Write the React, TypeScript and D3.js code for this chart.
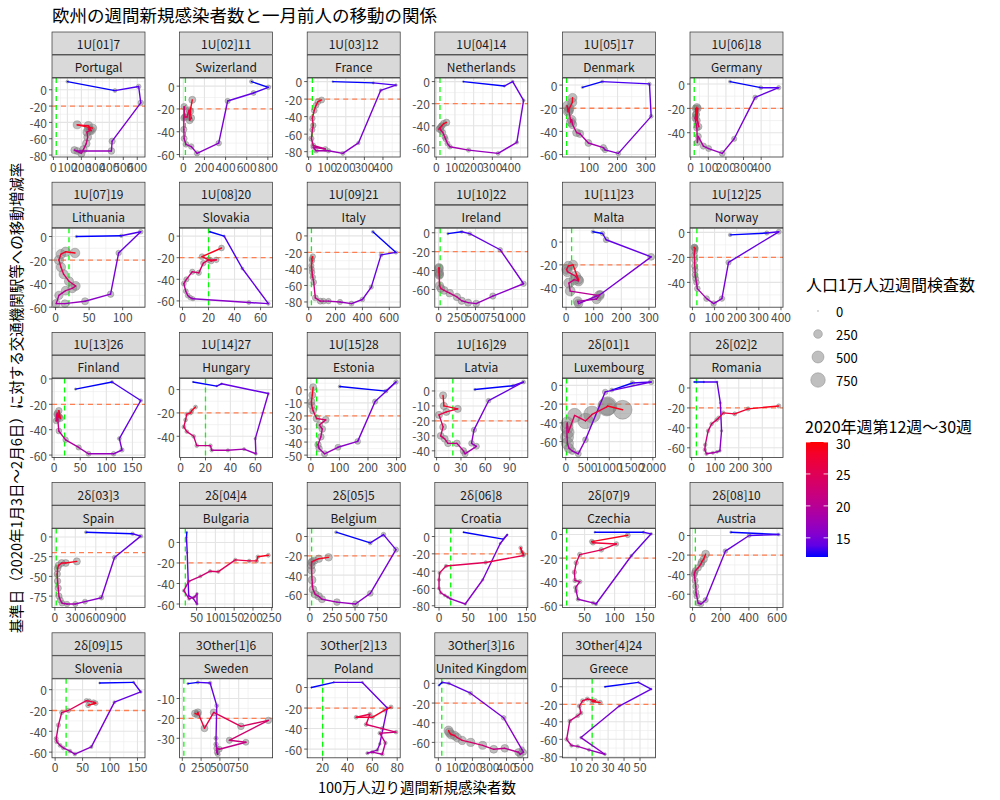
import React from "react";
import * as d3 from "d3";

const FONT = "'Noto Sans CJK JP', 'Noto Sans', sans-serif";

const weeks = [12, 13, 14, 15, 16, 17, 18, 19, 20, 21, 22, 23, 24, 25, 26, 27, 28, 29, 30];

const titleText = "欧州の週間新規感染者数と一月前人の移動の関係";
const xTitle = "100万人辺り週間新規感染者数";
const yTitle = "基準日（2020年1月3日〜2月6日）に対する交通機関駅等への移動増減率";
const sizeTitle = "人口1万人辺週間検査数";
const colorTitle = "2020年週第12週〜30週";
const sizeBreaks = [0, 250, 500, 750];
const colorBreaks = [15, 20, 25, 30];

// ---- per-country series (x: weekly new cases per million, y: mobility change a month before, t: tests per 10k) ----
const xPortugal = [100, 440, 610, 625, 420, 415, 170, 150, 200, 215, 235, 245, 240, 260, 250, 270, 250, 170, 280];
const yPortugal = [10, -1, 4, -16, -63, -75, -75, -74, -78, -73, -66, -58, -52, -50, -48, -50, -44, -43, -47];
const tPortugal = [20, 40, 60, 90, 120, 140, 150, 160, 170, 180, 190, 200, 210, 200, 220, 230, 220, 210, 230];

const xSwizerland = [645, 805, 665, 420, 335, 130, 75, 25, 8, 5, 5, 8, 15, 35, 55, 60, 75, 65, 85];
const ySwizerland = [4, -1, -6, -13, -50, -59, -53, -51, -46, -38, -28, -18, -27, -27, -21, -30, -28, -22, -12];
const tSwizerland = [40, 60, 70, 80, 90, 80, 90, 100, 110, 120, 120, 130, 130, 140, 140, 150, 150, 160, 160];

const xFrance = [130, 348, 470, 388, 268, 184, 107, 40, 25, 90, 25, 15, 20, 25, 20, 30, 40, 50, 70];
const yFrance = [0, -1.5, -4, -10, -70, -82, -79, -79, -75, -77, -73, -65, -55, -50, -42, -33, -27, -23, -21];
const tFrance = [5, 10, 15, 20, 30, 40, 50, 60, 60, 70, 70, 80, 80, 90, 90, 100, 100, 110, 110];

const xNetherlands = [145, 364, 409, 467, 431, 331, 173, 73, 60, 50, 45, 35, 25, 20, 15, 25, 30, 40, 55];
const yNetherlands = [0, -4, 0, -17, -55, -65, -62, -59, -56, -52, -50, -46, -44, -42, -43, -41, -40, -38, -37];
const tNetherlands = [5, 10, 15, 20, 30, 40, 50, 60, 70, 80, 90, 100, 110, 110, 120, 120, 130, 130, 140];

const xDenmark = [76, 146, 313, 319, 203, 156, 150, 97, 67, 55, 41, 38, 35, 28, 22, 25, 30, 40, 41];
const yDenmark = [-2, 3, 1, -27, -59, -56, -54, -50, -42, -41, -34, -30, -32, -22, -18, -23, -20, -15, -11];
const tDenmark = [10, 20, 30, 40, 60, 90, 120, 150, 180, 200, 230, 250, 260, 280, 300, 290, 280, 270, 260];

const xGermany = [223, 398, 500, 366, 247, 179, 102, 72, 43, 38, 35, 25, 30, 45, 28, 35, 40, 30, 35];
const yGermany = [2, -3, -3, -11, -45, -57, -53, -51, -43, -48, -36, -28, -25, -35, -20, -30, -20, -25, -19];
const tGermany = [20, 40, 50, 60, 80, 100, 110, 120, 120, 120, 130, 130, 140, 140, 150, 150, 160, 160, 170];

const xLithuania = [31, 98, 127, 94, 82, 44, 14, 1, 5, 15, 25, 30, 20, 12, 8, 5, 8, 15, 29];
const yLithuania = [0, 0.6, 4, -14, -49, -55, -57, -57, -50, -46, -44, -42, -38, -32, -26, -20, -15, -13, -14];
const tLithuania = [10, 30, 60, 90, 130, 160, 190, 210, 230, 250, 260, 270, 280, 280, 290, 290, 300, 300, 310];

const xSlovakia = [21, 32, 46, 66, 51, 8, 6, 4, 2.5, 1, 3, 7.5, 12.5, 16, 20, 26, 22, 15, 30];
const ySlovakia = [4, 0, -30, -62.5, -61.5, -58, -57, -55, -51, -44, -40, -33, -34, -25, -22, -22, -23, -19, -11];
const tSlovakia = [5, 10, 20, 30, 40, 50, 60, 70, 70, 70, 80, 80, 80, 90, 90, 90, 100, 100, 100];

const xItaly = [478, 650, 539, 466, 400, 319, 233, 147, 110, 86, 49, 37, 30, 25, 22, 20, 25, 22, 30];
const yItaly = [5, -20, -23, -62, -77, -82, -80, -79, -79, -79, -75, -56, -50, -44, -40, -36, -30, -28, -25];
const tItaly = [20, 30, 40, 50, 60, 70, 80, 90, 100, 110, 110, 100, 90, 90, 80, 80, 80, 80, 90];

const xIreland = [126, 313, 422, 835, 1152, 735, 509, 400, 313, 248, 150, 74, 30, 12, 8, 6, 5, 8, 10];
const yIreland = [-1, 1, -1, -18, -54, -67, -75, -74, -72, -68, -64, -61, -59, -56, -45, -38, -37, -42, -44];
const tIreland = [10, 20, 40, 60, 90, 120, 150, 160, 170, 180, 190, 200, 200, 210, 210, 220, 220, 230, 230];

const xMalta = [97, 132, 145, 308, 124, 45, 42, 110, 120, 15, 10, 30, 45, 35, 5, 2, 8, 25, 45];
const yMalta = [9, 7.5, 2, -13, -46, -54, -52, -50, -47, -43, -36, -33, -34, -30, -26, -24, -21, -20, -33];
const tMalta = [30, 60, 100, 150, 200, 250, 280, 300, 320, 330, 340, 350, 360, 340, 330, 320, 300, 290, 280];

const xNorway = [170, 336, 390, 163, 133, 96, 64, 22, 18, 15, 12, 12, 10, 10, 8, 10, 12, 8, 10];
const yNorway = [-2, -0.5, 0.5, -24, -53, -57, -53, -45, -40, -37, -34, -30, -27, -22, -18, -15, -13, -12, -12];
const tNorway = [30, 50, 70, 80, 90, 90, 100, 100, 100, 110, 110, 110, 120, 120, 120, 120, 130, 130, 130];

const xFinland = [41, 111, 166, 125, 130, 114, 66, 47, 22, 9, 7, 5, 4, 8, 6, 10, 9, 12, 8];
const yFinland = [-8, -2.4, -17, -47, -56, -59, -59, -54, -48, -41, -32, -28, -33, -30, -27, -30, -25, -31, -29];
const tFinland = [10, 20, 30, 40, 50, 60, 70, 80, 90, 100, 100, 110, 110, 120, 120, 120, 130, 130, 130];

const xHungary = [10, 29, 33, 70.5, 60, 60.5, 51, 38, 25, 24, 13, 10.5, 5, 2.6, 4, 5, 8, 9, 12];
const yHungary = [6.5, 3, 5, -3.4, -42, -55, -51, -52, -52, -48, -48, -40, -36, -32, -26, -21, -20, -18, -15];
const tHungary = [2, 4, 6, 10, 14, 18, 22, 26, 30, 32, 34, 36, 36, 38, 38, 40, 40, 42, 42];

const xEstonia = [101, 263, 298, 225, 164, 95, 48, 29, 25, 35, 40, 30, 52, 20, 8, 3, 2, 5, 8];
const yEstonia = [2.6, -1, 6, -9, -39.5, -44, -49, -45, -42, -36, -30, -27, -23, -22, -16, -12, -9, -4, 2];
const tEstonia = [20, 40, 60, 80, 100, 110, 120, 130, 130, 140, 140, 140, 150, 150, 150, 160, 160, 160, 160];

const xLatvia = [47, 94, 107, 64, 46, 43, 49, 35, 33, 25, 14, 10, 5, 8, 3, 12, 26, 9, 8];
const yLatvia = [1, 3.5, 6, -6.5, -26, -35, -37, -42, -40, -35, -35, -32, -30, -24, -16, -14, -12, -10, -3];
const tLatvia = [10, 20, 40, 60, 80, 100, 110, 120, 130, 140, 140, 150, 150, 150, 160, 160, 160, 170, 170];

const xLuxembourg = [1057, 1532, 1962, 906, 453, 287, 151, 75, 40, 30, 25, 35, 60, 204, 453, 604, 943, 960, 1306];
const yLuxembourg = [-5, 2.5, 3.6, -7, -58, -73, -70, -67, -62, -55, -45, -40, -50, -32, -38, -31, -23, -22, -26];
const tLuxembourg = [40, 60, 80, 90, 100, 110, 150, 300, 500, 600, 550, 500, 450, 700, 850, 1000, 1200, 1250, 1300];

const xRomania = [11, 52, 108, 122, 127, 120, 108, 90, 63, 56, 58, 70, 85, 106, 115, 134, 183, 240, 370];
const yRomania = [6, 6, 6, -15, -43, -63, -64, -65, -66, -62, -57, -43, -36, -32, -30, -25, -26, -21, -18];
const tRomania = [2, 4, 6, 8, 12, 16, 20, 24, 28, 30, 32, 34, 36, 38, 40, 42, 44, 46, 48];

const xSpain = [457, 1140, 1260, 875, 683, 442, 300, 178, 106, 80, 60, 50, 40, 35, 40, 55, 100, 160, 322];
const ySpain = [6, 4, 1, -26, -77, -82, -85, -85, -84, -80, -75, -65, -56, -47, -40, -36, -33, -33, -31];
const tSpain = [20, 30, 40, 50, 60, 70, 80, 90, 100, 110, 120, 120, 130, 130, 140, 140, 150, 150, 160];

const xBulgaria = [24, 23, 25, 29, 40, 51, 51, 45, 30, 16, 29, 60, 86, 108, 153, 190, 210, 213, 241];
const yBulgaria = [10, 5, -10, -52, -54, -60, -50, -53, -55, -47, -38, -33, -28, -28.5, -17, -18, -18, -14, -12.5];
const tBulgaria = [2, 3, 5, 8, 10, 12, 14, 16, 18, 20, 22, 24, 26, 28, 30, 32, 34, 36, 38];

const xBelgium = [291, 669, 815, 953, 669, 505, 300, 135, 98, 60, 35, 25, 20, 18, 20, 25, 50, 100, 207];
const yBelgium = [4.5, -6.6, 2, -13.6, -59, -70, -68, -65, -62, -60, -55, -45, -35, -30, -27, -26, -25, -23, -21.6];
const tBelgium = [20, 40, 60, 80, 100, 120, 140, 160, 180, 190, 200, 200, 190, 180, 170, 170, 170, 180, 180];

const xCroatia = [42, 110, 117, 105, 75, 45, 20, 15, 10, 3, 0, 0, 1, 12, 80, 145, 140, 142, 145];
const yCroatia = [5, -3, 2, -8, -50, -78, -72, -70, -68, -65, -60, -50, -42, -34, -30, -22, -13, -18, -20];
const tCroatia = [2, 4, 6, 8, 10, 12, 14, 16, 18, 20, 22, 24, 26, 28, 30, 32, 34, 36, 38];

const xCzechia = [67, 148, 161, 128, 69, 64, 39, 36, 35, 42, 34, 33, 36, 42, 78, 103, 64, 62, 122];
const yCzechia = [2, 2, 0.6, -18, -59, -58, -55, -48, -45, -40, -39, -32, -24, -17, -13, -8, -7, -6, -0.6];
const tCzechia = [5, 10, 15, 20, 25, 30, 35, 40, 45, 50, 50, 55, 55, 60, 60, 60, 65, 65, 70];

const xAustria = [272, 612, 402, 233, 93, 60, 40, 30, 25, 23, 18, 12, 15, 20, 40, 60, 65, 80, 93];
const yAustria = [3.4, 1, 0, -16, -66, -70, -69, -62, -58, -52, -46, -40, -38, -36, -33, -29, -27, -24, -19];
const tAustria = [10, 20, 40, 60, 80, 90, 100, 100, 100, 110, 110, 110, 120, 120, 130, 140, 150, 170, 200];

const xSlovenia = [81, 143, 156, 108, 66, 36, 27, 15, 9, 3, 2, 6, 12, 24, 57, 62, 70, 74, 60];
const ySlovenia = [6.4, 7, -2.2, -12, -55, -62, -59, -56, -53.5, -50, -47, -34, -22, -20, -10.6, -11, -12, -13, -15];
const tSlovenia = [5, 10, 15, 20, 25, 30, 35, 40, 40, 45, 45, 50, 50, 55, 55, 60, 60, 60, 65];

const xSweden = [75, 207, 370, 458, 449, 449, 471, 460, 455, 493, 846, 626, 1145, 780, 418, 295, 207, 200, 170];
const ySweden = [-2.5, -1.9, -2.2, -13.6, -30, -33, -38, -37, -35, -35.5, -32, -31, -21, -24, -17, -25, -17, -18, -17.5];
const tSweden = [10, 20, 30, 40, 50, 60, 70, 80, 90, 100, 110, 120, 130, 140, 150, 150, 160, 160, 160];

const xPoland = [11, 29, 52, 72, 66, 64, 56, 60, 68, 70.5, 66, 79, 68, 55, 58, 47, 60, 70, 75];
const yPoland = [0, 5, 5, -20, -55, -61, -64, -63, -65, -54, -44.5, -43.5, -40, -36, -26, -29, -29, -22, -19];
const tPoland = [2, 4, 8, 12, 16, 20, 24, 28, 30, 32, 34, 36, 38, 40, 40, 42, 42, 44, 44];

const xUK = [4, 23, 62, 189, 383, 490, 500, 480, 470, 390, 325, 260, 190, 140, 110, 95, 75, 65, 60];
const yUK = [-2, 1, 0, -10, -35, -67, -70, -72, -70, -66, -67, -63, -60, -58, -55, -53, -52, -50, -48];
const tUK = [5, 10, 20, 40, 60, 80, 110, 140, 170, 190, 200, 210, 220, 230, 240, 250, 260, 270, 280];

const xGreece = [28, 49, 57, 37, 13, 28, 18, 11, 7, 4, 6, 11, 13, 12, 14, 17, 22, 20, 25];
const yGreece = [0, 5, -2.7, -22, -58, -77, -72, -68, -67, -60, -39, -33, -30, -22, -16, -14, -16, -17, -18];
const tGreece = [2, 4, 6, 10, 14, 18, 22, 26, 30, 34, 38, 40, 42, 44, 46, 48, 50, 52, 54];

// ---- facet labels and tick labels ----
const groups = [
  "1U[01]7", "1U[02]11", "1U[03]12", "1U[04]14", "1U[05]17", "1U[06]18",
  "1U[07]19", "1U[08]20", "1U[09]21", "1U[10]22", "1U[11]23", "1U[12]25",
  "1U[13]26", "1U[14]27", "1U[15]28", "1U[16]29", "2δ[01]1", "2δ[02]2",
  "2δ[03]3", "2δ[04]4", "2δ[05]5", "2δ[06]8", "2δ[07]9", "2δ[08]10",
  "2δ[09]15", "3Other[1]6", "3Other[2]13", "3Other[3]16", "3Other[4]24",
];
const countries = [
  "Portugal", "Swizerland", "France", "Netherlands", "Denmark", "Germany",
  "Lithuania", "Slovakia", "Italy", "Ireland", "Malta", "Norway",
  "Finland", "Hungary", "Estonia", "Latvia", "Luxembourg", "Romania",
  "Spain", "Bulgaria", "Belgium", "Croatia", "Czechia", "Austria",
  "Slovenia", "Sweden", "Poland", "United Kingdom", "Greece",
];
const xSeries = [xPortugal, xSwizerland, xFrance, xNetherlands, xDenmark, xGermany, xLithuania, xSlovakia, xItaly, xIreland, xMalta, xNorway, xFinland, xHungary, xEstonia, xLatvia, xLuxembourg, xRomania, xSpain, xBulgaria, xBelgium, xCroatia, xCzechia, xAustria, xSlovenia, xSweden, xPoland, xUK, xGreece];
const ySeries = [yPortugal, ySwizerland, yFrance, yNetherlands, yDenmark, yGermany, yLithuania, ySlovakia, yItaly, yIreland, yMalta, yNorway, yFinland, yHungary, yEstonia, yLatvia, yLuxembourg, yRomania, ySpain, yBulgaria, yBelgium, yCroatia, yCzechia, yAustria, ySlovenia, ySweden, yPoland, yUK, yGreece];
const tSeries = [tPortugal, tSwizerland, tFrance, tNetherlands, tDenmark, tGermany, tLithuania, tSlovakia, tItaly, tIreland, tMalta, tNorway, tFinland, tHungary, tEstonia, tLatvia, tLuxembourg, tRomania, tSpain, tBulgaria, tBelgium, tCroatia, tCzechia, tAustria, tSlovenia, tSweden, tPoland, tUK, tGreece];
const xTickSets = [
  [0, 100, 200, 300, 400, 500, 600], [0, 200, 400, 600, 800], [0, 100, 200, 300, 400], [0, 100, 200, 300, 400], [100, 200, 300], [0, 100, 200, 300, 400],
  [0, 50, 100], [0, 20, 40, 60], [0, 200, 400, 600], [0, 250, 500, 750, 1000], [0, 100, 200, 300], [0, 100, 200, 300, 400],
  [0, 50, 100, 150], [0, 20, 40, 60], [0, 100, 200, 300], [0, 30, 60, 90], [0, 500, 1000, 1500, 2000], [0, 100, 200, 300],
  [0, 300, 600, 900], [50, 100, 150, 200, 250], [0, 250, 500, 750], [0, 50, 100, 150], [50, 100, 150], [0, 200, 400, 600],
  [0, 50, 100, 150], [0, 250, 500, 750], [20, 40, 60, 80], [0, 100, 200, 300, 400, 500], [10, 20, 30, 40, 50],
];
const yTickSets = [
  [0, -20, -40, -60, -80], [0, -20, -40, -60], [0, -20, -40, -60, -80], [0, -20, -40, -60], [0, -20, -40, -60], [0, -20, -40, -60],
  [0, -20, -40, -60], [0, -20, -40, -60], [0, -20, -40, -60, -80], [0, -20, -40, -60], [0, -20, -40], [0, -20, -40],
  [0, -20, -40, -60], [0, -20, -40], [0, -10, -20, -30, -40, -50], [0, -10, -20, -30, -40], [0, -20, -40, -60], [0, -20, -40, -60],
  [0, -25, -50, -75], [0, -20, -40, -60], [0, -20, -40, -60], [0, -20, -40, -60, -80], [0, -20, -40, -60], [0, -20, -40, -60],
  [0, -20, -40, -60], [-10, -20, -30, -40], [0, -20, -40, -60], [0, -20, -40, -60], [0, -20, -40, -60, -80],
];

const caseLine = 20;
const mobilityLine = -20;

// ---- scales shared by all panels ----
const colorScale = d3.scaleLinear<string>().domain([12, 30]).range(["#0000FF", "#FF0000"]).interpolate(d3.interpolateLab);
const sizeScale = d3.scaleSqrt().domain([0, 1300]).range([0.4, 9.4]);

// layout
const PANEL_W = 93;
const PANEL_H = 79;
const COL0 = 52;
const COL_STEP = 127.6;
const ROW0 = 32;
const ROW_STEP = 150.2;
const STRIP_H = 23;
const TICK_FS = 12;

function minorTicks(ticks: number[], lo: number, hi: number) {
  if (ticks.length < 2) return [];
  const step = ticks[1] - ticks[0];
  const out: number[] = [];
  const first = ticks[0] - step / 2;
  for (let v = first; v <= ticks[ticks.length - 1] + step / 2 + 1e-9; v += step) {
    if (v >= lo && v <= hi) out.push(v);
  }
  return out;
}

function Panel({ i }: { i: number }) {
  const col = i % 6;
  const row = Math.floor(i / 6);
  const left = COL0 + col * COL_STEP;
  const stripTop = ROW0 + row * ROW_STEP;
  const top = stripTop + 2 * STRIP_H;
  const xs = xSeries[i];
  const ys = ySeries[i];
  const ts = tSeries[i];
  const [xa, xb] = d3.extent([...xs, caseLine]) as [number, number];
  const [ya, yb] = d3.extent([...ys, mobilityLine]) as [number, number];
  const dx = (xb - xa) * 0.05;
  const dy = (yb - ya) * 0.05;
  const xDom: [number, number] = [xa - dx, xb + dx];
  const yDom: [number, number] = [ya - dy, yb + dy];
  const xScale = d3.scaleLinear().domain(xDom).range([left, left + PANEL_W]);
  const yScale = d3.scaleLinear().domain(yDom).range([top + PANEL_H, top]);
  const xSorted = [...xTickSets[i]].sort((a, b) => a - b);
  const ySorted = [...yTickSets[i]].sort((a, b) => a - b);
  const xt = xSorted.filter((v) => v >= xDom[0] && v <= xDom[1]);
  const yt = ySorted.filter((v) => v >= yDom[0] && v <= yDom[1]);
  const xm = minorTicks(xSorted, xDom[0], xDom[1]);
  const ym = minorTicks(ySorted, yDom[0], yDom[1]);
  const bottom = top + PANEL_H;

  return (
    <g>
      {/* strips */}
      <rect x={left} y={stripTop} width={PANEL_W} height={STRIP_H - 0.5} fill="#D9D9D9" stroke="#333333" strokeWidth={0.7} />
      <text x={left + PANEL_W / 2} y={stripTop + STRIP_H / 2} textAnchor="middle" dominantBaseline="central" fontSize={12} fill="#1A1A1A">{groups[i]}</text>
      <rect x={left} y={stripTop + STRIP_H} width={PANEL_W} height={STRIP_H - 0.5} fill="#D9D9D9" stroke="#333333" strokeWidth={0.7} />
      <text x={left + PANEL_W / 2} y={stripTop + STRIP_H * 1.5} textAnchor="middle" dominantBaseline="central" fontSize={12} fill="#1A1A1A">{countries[i]}</text>
      {/* panel */}
      <rect x={left} y={top} width={PANEL_W} height={PANEL_H} fill="#FFFFFF" />
      {xm.map((v) => (
        <line key={"xm" + v} x1={xScale(v)} x2={xScale(v)} y1={top} y2={bottom} stroke="#EBEBEB" strokeWidth={0.6} />
      ))}
      {ym.map((v) => (
        <line key={"ym" + v} x1={left} x2={left + PANEL_W} y1={yScale(v)} y2={yScale(v)} stroke="#EBEBEB" strokeWidth={0.6} />
      ))}
      {xt.map((v) => (
        <line key={"xg" + v} x1={xScale(v)} x2={xScale(v)} y1={top} y2={bottom} stroke="#E4E4E4" strokeWidth={1.1} />
      ))}
      {yt.map((v) => (
        <line key={"yg" + v} x1={left} x2={left + PANEL_W} y1={yScale(v)} y2={yScale(v)} stroke="#E4E4E4" strokeWidth={1.1} />
      ))}
      <line x1={left} x2={left + PANEL_W} y1={yScale(mobilityLine)} y2={yScale(mobilityLine)} stroke="#FF7F50" strokeWidth={1.3} strokeDasharray="5,4" />
      <line x1={xScale(caseLine)} x2={xScale(caseLine)} y1={top} y2={bottom} stroke="#00FF00" strokeWidth={1.3} strokeDasharray="5,4" />
      {/* points */}
      {xs.map((v, k) => (
        <circle key={"p" + k} cx={xScale(v)} cy={yScale(ys[k])} r={sizeScale(ts[k])} fill="#7F7F7F" fillOpacity={0.5} stroke="#7F7F7F" strokeOpacity={0.55} strokeWidth={0.8} />
      ))}
      {/* path coloured by week */}
      {xs.slice(0, -1).map((v, k) => (
        <line key={"s" + k} x1={xScale(v)} y1={yScale(ys[k])} x2={xScale(xs[k + 1])} y2={yScale(ys[k + 1])} stroke={colorScale(weeks[k])} strokeWidth={1.4} strokeLinecap="round" />
      ))}
      <rect x={left} y={top} width={PANEL_W} height={PANEL_H} fill="none" stroke="#333333" strokeWidth={0.8} />
      {/* axes */}
      {xt.map((v) => (
        <g key={"xl" + v}>
          <line x1={xScale(v)} x2={xScale(v)} y1={bottom} y2={bottom + 3} stroke="#333333" strokeWidth={0.8} />
          <text x={xScale(v)} y={bottom + 14.5} textAnchor="middle" fontSize={TICK_FS} fill="#4D4D4D">{v}</text>
        </g>
      ))}
      {yt.map((v) => (
        <g key={"yl" + v}>
          <line x1={left - 3} x2={left} y1={yScale(v)} y2={yScale(v)} stroke="#333333" strokeWidth={0.8} />
          <text x={left - 5} y={yScale(v)} textAnchor="end" dominantBaseline="central" fontSize={TICK_FS} fill="#4D4D4D">{v}</text>
        </g>
      ))}
    </g>
  );
}

function Legends() {
  const barTop = 442;
  const barBottom = 557;
  const barScale = d3.scaleLinear().domain([12, 30]).range([barBottom, barTop]);
  const stops = d3.range(0, 11).map((k) => ({ off: k / 10, c: colorScale(12 + (18 * k) / 10) }));
  const keyY = d3.scalePoint<number>().domain(sizeBreaks).range([311, 380]);
  return (
    <g>
      <defs>
        <linearGradient id="cbar" x1="0" y1="1" x2="0" y2="0">
          {stops.map((s) => (
            <stop key={s.off} offset={s.off} stopColor={s.c} />
          ))}
        </linearGradient>
      </defs>
      <text x={806} y={291} fontSize={16} fill="#000000">{sizeTitle}</text>
      {sizeBreaks.map((v) => (
        <g key={"sz" + v}>
          <circle cx={818} cy={keyY(v)} r={sizeScale(v)} fill="#7F7F7F" fillOpacity={0.5} stroke="#7F7F7F" strokeOpacity={0.55} strokeWidth={0.8} />
          <text x={836} y={keyY(v)} dominantBaseline="central" fontSize={13} fill="#000000">{v}</text>
        </g>
      ))}
      <text x={805} y={433} fontSize={16} fill="#000000">{colorTitle}</text>
      <rect x={806} y={barTop} width={22} height={barBottom - barTop} fill="url(#cbar)" />
      {colorBreaks.map((v) => (
        <g key={"cb" + v}>
          <line x1={806} x2={810.4} y1={barScale(v)} y2={barScale(v)} stroke="#FFFFFF" strokeWidth={0.8} />
          <line x1={823.6} x2={828} y1={barScale(v)} y2={barScale(v)} stroke="#FFFFFF" strokeWidth={0.8} />
          <text x={836} y={barScale(v) + 1} dominantBaseline="central" fontSize={13} fill="#000000">{v}</text>
        </g>
      ))}
    </g>
  );
}

export default function App() {
  return (
    <svg width={1000} height={800} style={{ position: "absolute", left: 0, top: 0, background: "#FFFFFF" }} fontFamily={FONT}>
      <rect x={0} y={0} width={1000} height={800} fill="#FFFFFF" />
      <text x={52} y={22} fontSize={17.5} fill="#000000">{titleText}</text>
      {countries.map((_, i) => (
        <Panel key={i} i={i} />
      ))}
      <text x={417} y={793} textAnchor="middle" fontSize={14.5} fill="#000000">{xTitle}</text>
      <text transform="translate(15, 398) rotate(-90)" textAnchor="middle" dominantBaseline="central" fontSize={14.5} fill="#000000">{yTitle}</text>
      <Legends />
    </svg>
  );
}
